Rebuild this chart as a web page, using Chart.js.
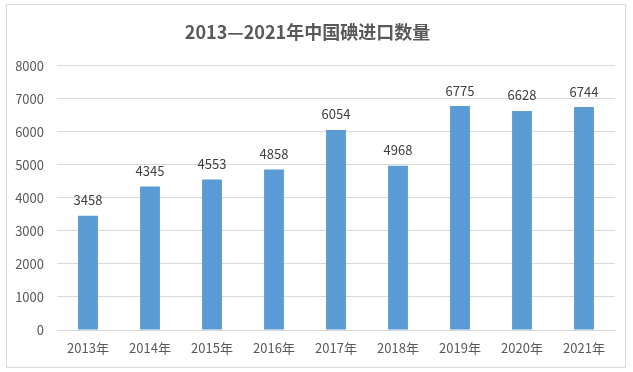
<!DOCTYPE html>
<html>
<head>
<meta charset="utf-8">
<script src="https://cdn.jsdelivr.net/npm/chart.js@4.4.0/dist/chart.umd.min.js"></script>
<style>
  html, body { margin: 0; padding: 0; background: #fff; }
  #wrap { width: 633px; height: 372px; position: relative; }
</style>
</head>
<body>
<div id="wrap"><canvas id="iodineChart" width="633" height="372"></canvas></div>
<script>
// Dữ liệu
const years = ['2013年', '2014年', '2015年', '2016年', '2017年', '2018年', '2019年', '2020年', '2021年'];
const importValues = [3458, 4345, 4553, 4858, 6054, 4968, 6775, 6628, 6744];
const yTicks = [0, 1000, 2000, 3000, 4000, 5000, 6000, 7000, 8000];
const titleText = '2013—2021年中国碘进口数量';

const FONT = "'Microsoft YaHei', 'Noto Sans CJK SC', 'DejaVu Sans', sans-serif";
const GREY = '#595959';

// khung viền ngoài
const borderPlugin = {
    id: 'outerBorder',
    beforeDraw(chart) {
        const c = chart.ctx;
        c.save();
        c.fillStyle = '#fff';
        c.fillRect(0, 0, chart.width, chart.height);
        c.strokeStyle = '#d9d9d9';
        c.lineWidth = 1;
        c.strokeRect(6.5, 4.5, 619, 363);
        c.restore();
    }
};

// nhãn số trên cột
const valueLabels = {
    id: 'valueLabels',
    afterDatasetsDraw(chart) {
        const c = chart.ctx;
        const meta = chart.getDatasetMeta(0);
        c.save();
        c.font = '13px ' + FONT;
        c.fillStyle = '#404040';
        c.textAlign = 'center';
        c.textBaseline = 'bottom';
        meta.data.forEach((bar, i) => {
            c.fillText(String(importValues[i]), bar.x, bar.y - 9);
        });
        c.restore();
    }
};

const ctx = document.getElementById('iodineChart').getContext('2d');

new Chart(ctx, {
    type: 'bar',
    data: {
        labels: years,
        datasets: [{
            data: importValues,
            backgroundColor: '#5b9bd5',
            barPercentage: 0.32,
            categoryPercentage: 1.0
        }]
    },
    options: {
        responsive: false,
        animation: false,
        layout: { padding: { top: 0, right: 18, bottom: 0, left: 0 } },
        plugins: {
            legend: { display: false },
            tooltip: { enabled: false },
            title: {
                display: true,
                text: titleText,
                color: GREY,
                font: { family: FONT, size: 18, weight: 'bold' },
                padding: { top: 21, bottom: 23 }
            }
        },
        scales: {
            x: {
                grid: { display: false, drawTicks: false },
                border: { display: true, color: '#d9d9d9' },
                ticks: { color: GREY, font: { family: FONT, size: 13 }, padding: 10, maxRotation: 0 },
                afterFit(scale) { scale.height = 42; }
            },
            y: {
                min: 0,
                max: 8000,
                afterBuildTicks(scale) { scale.ticks = yTicks.map(v => ({ value: v })); },
                grid: { color: '#d9d9d9', drawTicks: false },
                border: { display: false },
                ticks: {
                    color: GREY,
                    font: { family: FONT, size: 13 },
                    padding: 13,
                    callback: (v) => String(v)
                },
                afterFit(scale) { scale.width = 57; }
            }
        }
    },
    plugins: [borderPlugin, valueLabels]
});
</script>
</body>
</html>
